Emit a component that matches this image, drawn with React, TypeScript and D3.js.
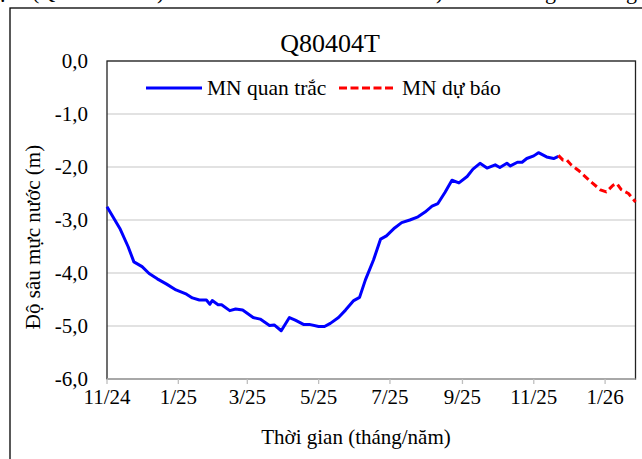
import React from "react";
import * as d3 from "d3";

const TITLE = "Q80404T";
const Y_TITLE = "Độ sâu mực nước (m)";
const X_TITLE = "Thời gian (tháng/năm)";
const SERIES_NAMES = ["MN quan trắc", "MN dự báo"];

const observedDates = [
  "2024-11-01", "2024-11-12", "2024-11-19", "2024-11-24", "2024-12-01", "2024-12-07",
  "2024-12-14", "2024-12-22", "2024-12-30", "2025-01-08", "2025-01-13", "2025-01-19",
  "2025-01-25", "2025-01-28", "2025-01-30", "2025-02-04", "2025-02-07", "2025-02-14",
  "2025-02-19", "2025-02-25", "2025-03-06", "2025-03-12", "2025-03-20", "2025-03-24",
  "2025-03-30", "2025-04-06", "2025-04-11", "2025-04-18", "2025-04-23", "2025-05-01",
  "2025-05-06", "2025-05-11", "2025-05-18", "2025-05-24", "2025-05-31", "2025-06-05",
  "2025-06-10", "2025-06-17", "2025-06-23", "2025-06-28", "2025-07-05", "2025-07-11",
  "2025-07-18", "2025-07-25", "2025-07-31", "2025-08-06", "2025-08-11", "2025-08-17",
  "2025-08-23", "2025-08-29", "2025-09-05", "2025-09-10", "2025-09-16", "2025-09-22",
  "2025-09-29", "2025-10-03", "2025-10-09", "2025-10-12", "2025-10-18", "2025-10-22",
  "2025-10-26", "2025-11-01", "2025-11-05", "2025-11-12", "2025-11-18", "2025-11-22",
];
const observedValues = [
  -2.75, -3.16, -3.5, -3.79, -3.88, -4.01,
  -4.11, -4.21, -4.32, -4.4, -4.47, -4.51,
  -4.51, -4.59, -4.52, -4.6, -4.6, -4.71,
  -4.68, -4.7, -4.84, -4.87, -4.99, -4.98,
  -5.09, -4.84, -4.89, -4.97, -4.97, -5.01,
  -5.01, -4.95, -4.84, -4.7, -4.52, -4.46,
  -4.13, -3.75, -3.36, -3.3, -3.15, -3.05,
  -3.0, -2.94, -2.85, -2.74, -2.69, -2.48,
  -2.25, -2.3, -2.18, -2.04, -1.93, -2.02,
  -1.96, -2.01, -1.93, -1.98, -1.91, -1.91,
  -1.84, -1.79, -1.73, -1.81, -1.84, -1.8,
];

const forecastDates = [
  "2025-11-22", "2025-11-26", "2025-11-29", "2025-12-03", "2025-12-09", "2025-12-15",
  "2025-12-21", "2025-12-28", "2026-01-02", "2026-01-08", "2026-01-11", "2026-01-15",
  "2026-01-21", "2026-01-27",
];
const forecastValues = [
  -1.78, -1.87, -1.86, -1.96, -2.06, -2.18,
  -2.3, -2.43, -2.47, -2.34, -2.31, -2.43,
  -2.5, -2.66,
];

const X_DOMAIN = ["2024-11-01", "2026-01-27"];
const X_TICKS = ["2024-11-01", "2025-01-01", "2025-03-01", "2025-05-01", "2025-07-01", "2025-09-01", "2025-11-01", "2026-01-01"];
const Y_TICKS = [0, -1, -2, -3, -4, -5, -6];

const parse = d3.timeParse("%Y-%m-%d");
const FONT = "Liberation Serif, DejaVu Serif, serif";

export default function App() {
  const W = 642, H = 459;
  const left = 107, right = 635.5, top = 61, bottom = 379;

  const x = d3.scaleTime()
    .domain(X_DOMAIN.map((d) => parse(d) as Date))
    .range([left, right]);
  const y = d3.scaleLinear().domain([-6, 0]).range([bottom, top]);

  const line = d3.line<[Date, number]>()
    .x((d) => x(d[0]))
    .y((d) => y(d[1]));

  const obs: [Date, number][] = observedDates.map((d, i) => [parse(d) as Date, observedValues[i]]);
  const fc: [Date, number][] = forecastDates.map((d, i) => [parse(d) as Date, forecastValues[i]]);

  const fmtY = (v: number) => d3.format(".1f")(v).replace("−", "-").replace(".", ",");
  const fmtX = d3.timeFormat("%-m/%y");

  return (
    <svg width={W} height={H} style={{ position: "absolute", left: 0, top: 0, background: "#fff", fontFamily: FONT }}>
      <rect x={0} y={0} width={W} height={H} fill="#fff" />
      {/* cut-off document text above the figure */}
      <g style={{ fontFamily: FONT }} fontSize={22} fill="#000">
        <text x={0} y={2}>.</text>
        <text x={32} y={-1}>(Q</text>
        <text x={157} y={-1}>)</text>
        <text x={436} y={-1}>)</text>
        <text x={545} y={-1}>g</text>
        <text x={626} y={-1}>g</text>
      </g>
      {/* outer frame */}
      <rect x={10} y={8} width={W + 20} height={H + 20} fill="none" stroke="#000" strokeWidth={1.3} />

      {/* gridlines */}
      {Y_TICKS.map((t) => (
        <line key={"g" + t} x1={left} x2={right} y1={y(t)} y2={y(t)} stroke="#d9d9d9" strokeWidth={1.3} />
      ))}
      {/* plot area border */}
      <rect x={left} y={top} width={right - left} height={bottom - top} fill="none" stroke="#222" strokeWidth={1.3} />
      {/* x axis line and ticks */}
      <line x1={left} x2={right} y1={bottom} y2={bottom} stroke="#bfbfbf" strokeWidth={1.3} />
      {X_TICKS.map((t) => {
        const xx = x(parse(t) as Date);
        return <line key={"t" + t} x1={xx} x2={xx} y1={bottom} y2={bottom + 5} stroke="#bfbfbf" strokeWidth={1.3} />;
      })}

      <g style={{ fontFamily: FONT }} fontSize={21} fill="#000">
        {Y_TICKS.map((t) => (
          <text key={"yl" + t} x={88} y={y(t)} textAnchor="end" dominantBaseline="central">
            {fmtY(t)}
          </text>
        ))}
        {X_TICKS.map((t) => (
          <text key={"xl" + t} x={x(parse(t) as Date)} y={404} textAnchor="middle">
            {fmtX(parse(t) as Date)}
          </text>
        ))}
        <text x={356} y={444} textAnchor="middle">{X_TITLE}</text>
        <text transform={`translate(40,237) rotate(-90)`} textAnchor="middle">{Y_TITLE}</text>
      </g>

      <text x={330} y={52} textAnchor="middle" style={{ fontFamily: FONT }} fontSize={26} fill="#000">{TITLE}</text>

      {/* series */}
      <path d={line(obs) || ""} fill="none" stroke="#0000ff" strokeWidth={3} strokeLinejoin="round" />
      <path d={line(fc) || ""} fill="none" stroke="#ff0000" strokeWidth={3} strokeDasharray="7,4" strokeLinejoin="round" />

      {/* legend */}
      <g style={{ fontFamily: FONT }} fontSize={21.5} fill="#000">
        <line x1={146} x2={202} y1={88} y2={88} stroke="#0000ff" strokeWidth={3} />
        <text x={207} y={88} dominantBaseline="central">{SERIES_NAMES[0]}</text>
        <line x1={339} x2={396} y1={88} y2={88} stroke="#ff0000" strokeWidth={3} strokeDasharray="8,3.5" />
        <text x={402} y={88} dominantBaseline="central">{SERIES_NAMES[1]}</text>
      </g>
    </svg>
  );
}
